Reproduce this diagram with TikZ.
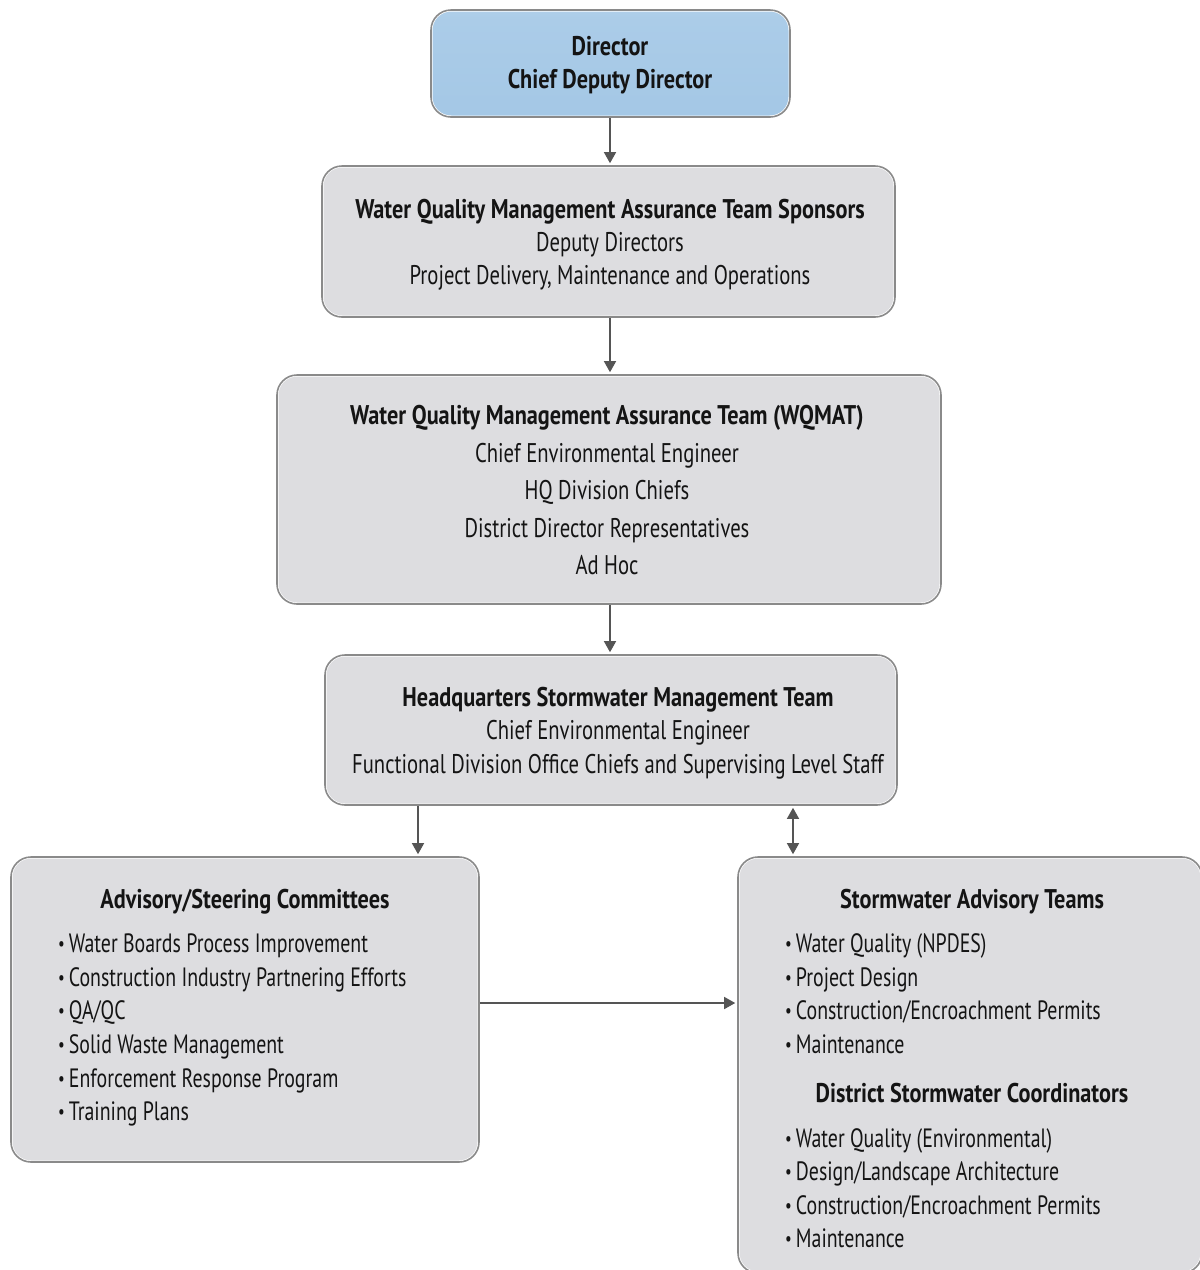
\documentclass[tikz,border=0pt]{standalone}
\usepackage{fontspec}
\setmainfont{PT Sans}[FakeStretch=0.765]
\newfontfamily\boldfam{PT Sans Bold}[FakeStretch=0.825]
\newfontfamily\itemfam{PT Sans}[FakeStretch=0.75]
\usetikzlibrary{arrows.meta}
\definecolor{edgec}{HTML}{8A8A8A}
\definecolor{arrowc}{HTML}{555555}
\definecolor{txtc}{HTML}{141414}
\pgfdeclareverticalshading{grayshade}{100bp}{rgb(0bp)=(0.96,0.96,0.965); rgb(10bp)=(0.90,0.90,0.91); rgb(25bp)=(0.865,0.868,0.878); rgb(85bp)=(0.865,0.868,0.878); rgb(100bp)=(0.89,0.89,0.90)}
\pgfdeclareverticalshading{blueshade}{100bp}{rgb(0bp)=(0.80,0.88,0.95); rgb(20bp)=(0.64,0.78,0.90); rgb(70bp)=(0.67,0.80,0.91); rgb(100bp)=(0.78,0.87,0.94)}
\newcommand\bul{\raisebox{1.5pt}{\scalebox{0.75}{\textbullet}}\hspace{4pt}}
\begin{document}
\begin{tikzpicture}[x=1pt,y=-1pt,
  boxbase/.style={rounded corners=20pt, draw=edgec, line width=1.6pt, inner sep=0pt,
    path picture={\draw[white, line width=3pt, rounded corners=20pt] (path picture bounding box.south west) rectangle (path picture bounding box.north east);}},
  graybox/.style={boxbase, shading=grayshade},
  bluebox/.style={boxbase, shading=blueshade},
  txt/.style={font=\fontsize{27}{30}\selectfont, text=txtc, inner sep=0pt, anchor=base},
  btxt/.style={txt, font=\fontsize{27}{30}\boldfam\selectfont},
  itm/.style={txt, anchor=base west, font=\fontsize{26.5}{30}\itemfam\selectfont},
  arr/.style={draw=arrowc, line width=1.4pt, -{Triangle[width=12pt,length=11pt]}, shorten >=2pt},
  darr/.style={draw=arrowc, line width=1.4pt, {Triangle[width=12pt,length=11pt]}-{Triangle[width=12pt,length=11pt]}, shorten >=2pt, shorten <=2pt}
]
\useasboundingbox (0,0) rectangle (1200,1270);
\fill[white] (0,0) rectangle (1200,1270);

% boxes
\node[bluebox, minimum width=359pt, minimum height=107pt] (dir) at (610.5,63.5) {};
\node[graybox, minimum width=573pt, minimum height=151pt] (spon) at (608.5,241.5) {};
\node[graybox, minimum width=664pt, minimum height=229pt] (wq) at (609,489.5) {};
\node[graybox, minimum width=572pt, minimum height=150pt] (hq) at (611,730) {};
\node[graybox, minimum width=468pt, minimum height=305pt] (adv) at (245,1009.5) {};
\node[graybox, minimum width=464pt, minimum height=416pt] (sw) at (970,1065) {};

% director text
\node[btxt] (d1) at (610,55) {Director};
\node[btxt] (d2) at (610,88) {Chief Deputy Director};

% sponsors
\node[btxt] (s1) at (610,218) {Water Quality Management Assurance Team Sponsors};
\node[txt] (s2) at (610,251) {Deputy Directors};
\node[txt] (s3) at (610,284) {Project Delivery, Maintenance and Operations};

% WQMAT
\node[btxt] (w1) at (607,424) {Water Quality Management Assurance Team (WQMAT)};
\node[txt] (w2) at (607,462) {Chief Environmental Engineer};
\node[txt] (w3) at (607,499) {HQ Division Chiefs};
\node[txt] (w4) at (607,537) {District Director Representatives};
\node[txt] (w5) at (607,574) {Ad Hoc};

% HQ
\node[btxt] (h1) at (618,706) {Headquarters Stormwater Management Team};
\node[txt] (h2) at (618,739) {Chief Environmental Engineer};
\node[txt] (h3) at (618,773) {Functional Division Office Chiefs and Supervising Level Staff};

% advisory
\node[btxt] (a0) at (245,908) {Advisory/Steering Committees};
\node[itm] (a1) at (58,952) {\bul Water Boards Process Improvement};
\node[itm] (a2) at (58,986) {\bul Construction Industry Partnering Efforts};
\node[itm] (a3) at (58,1019) {\bul QA/QC};
\node[itm] (a4) at (58,1053) {\bul Solid Waste Management};
\node[itm] (a5) at (58,1087) {\bul Enforcement Response Program};
\node[itm] (a6) at (58,1120) {\bul Training Plans};

% stormwater
\node[btxt] (t0) at (972,908) {Stormwater Advisory Teams};
\node[itm] (t1) at (785,952) {\bul Water Quality (NPDES)};
\node[itm] (t2) at (785,986) {\bul Project Design};
\node[itm] (t3) at (785,1019) {\bul Construction/Encroachment Permits};
\node[itm] (t4) at (785,1053) {\bul Maintenance};
\node[btxt] (c0) at (972,1102) {District Stormwater Coordinators};
\node[itm] (c1) at (785,1147) {\bul Water Quality (Environmental)};
\node[itm] (c2) at (785,1180) {\bul Design/Landscape Architecture};
\node[itm] (c3) at (785,1214) {\bul Construction/Encroachment Permits};
\node[itm] (c4) at (785,1247) {\bul Maintenance};

% connectors
\coordinate (lx) at (418,0);
\coordinate (rx) at (793,0);
\draw[arr] (dir.south -| 610,0) -- (spon.north -| 610,0);
\draw[arr] (spon.south -| 610,0) -- (wq.north -| 610,0);
\draw[arr] (wq.south -| 610,0) -- (hq.north -| 610,0);
\draw[arr] (hq.south -| lx) -- (adv.north -| lx);
\draw[darr] (hq.south -| rx) -- (sw.north -| rx);
\draw[arr] ([yshift=6.5pt]adv.east) -- ([yshift=6.5pt]adv.east -| sw.west);
\end{tikzpicture}
\end{document}
